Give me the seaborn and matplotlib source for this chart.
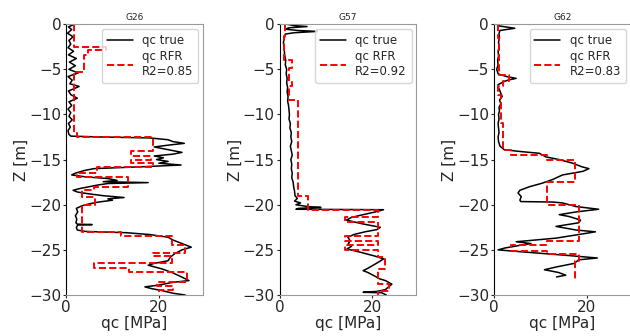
import numpy as np
import pandas as pd
import matplotlib
matplotlib.use("Agg")
import matplotlib.pyplot as plt
import seaborn as sns

# Sondeos y coeficientes R2
names = ["G26", "G57", "G62"]
r2_scores = [0.85, 0.92, 0.83]

# qc medido (profundidad en m, qc en MPa)
z_true_g26 = [0, -0.3, -0.6, -1.0, -1.4, -1.8, -2.2, -2.6, -3.0, -3.4, -3.8, -4.2, -4.6, -5.0,
              -5.4, -5.8, -6.2, -6.6, -6.9, -7.4, -7.8, -8.2, -8.6, -9.0, -9.4, -9.8, -10.2,
              -10.6, -11.0, -11.4, -11.8, -12.2, -12.4, -12.5, -12.6, -12.8, -13.0, -13.2, -13.4,
              -13.6, -13.8, -14.0, -14.2, -14.4, -14.6, -14.8, -15.0, -15.2, -15.4, -15.6, -15.8,
              -16.0, -16.2, -16.5, -16.7, -16.9, -17.1, -17.3, -17.45, -17.55, -17.65, -17.8,
              -18.0, -18.2, -18.4, -18.6, -18.8, -19.0, -19.2, -19.35, -19.5, -19.7, -19.9,
              -20.1, -20.4, -20.8, -21.2, -21.6, -22.0, -22.15, -22.2, -22.25, -22.5, -22.8,
              -22.95, -23.1, -23.3, -23.6, -23.9, -24.1, -24.4, -24.7, -25.0, -25.4, -25.8,
              -26.2, -26.5, -26.7, -27.1, -27.5, -27.9, -28.2, -28.4, -28.6, -28.9, -29.1,
              -29.3, -29.5, -29.8, -30.0]
qc_true_g26 = [1.8, 0.5, 1.2, 0.3, 1.5, 0.6, 1.0, 0.4, 1.6, 0.5, 2.2, 0.7, 2.0, 0.6,
               2.6, 0.4, 1.3, 0.8, 2.8, 0.5, 1.0, 2.4, 0.6, 1.2, 0.4, 1.0, 0.6,
               1.3, 0.5, 0.9, 0.4, 0.6, 1.0, 8.0, 18.0, 22.0, 23.0, 25.5, 22.0,
               19.0, 21.0, 23.0, 25.0, 23.0, 19.0, 21.0, 19.5, 22.0, 20.0, 24.8, 16.0,
               6.0, 4.0, 2.0, 1.2, 4.0, 9.0, 11.0, 8.0, 17.7, 9.0, 7.0,
               5.0, 3.0, 1.5, 2.5, 5.0, 8.0, 12.5, 9.0, 10.0, 7.0, 5.0,
               3.5, 2.2, 2.5, 2.0, 2.3, 2.1, 2.4, 5.6, 2.5, 2.2, 2.4,
               4.0, 13.0, 18.0, 22.0, 23.0, 24.0, 25.5, 27.0, 25.0, 23.5, 22.5,
               22.0, 19.0, 17.7, 20.6, 22.8, 24.5, 25.7, 26.5, 23.0, 20.0, 17.0,
               18.5, 20.6, 23.0, 25.7]

z_true_g57 = [0, -0.15, -0.26, -0.4, -0.55, -0.7, -0.8, -0.95, -1.1, -1.5, -2.0, -2.5, -3.0,
              -3.5, -4.0, -4.5, -5.0, -5.5, -6.0, -6.5, -7.0, -7.5, -8.0, -8.5, -9.0, -9.5,
              -10.0, -10.5, -11.0, -11.5, -12.0, -12.5, -13.0, -13.5, -14.0, -14.5, -15.0,
              -15.5, -16.0, -16.5, -17.0, -17.5, -18.0, -18.5, -19.0, -19.3, -19.6, -19.8,
              -20.0, -20.2, -20.3, -20.4, -20.5, -20.55, -20.8, -21.1, -21.4, -21.7, -22.1,
              -22.5, -22.75, -23.0, -23.3, -23.6, -24.0, -24.3, -24.6, -24.9, -25.3, -25.7,
              -26.0, -26.3, -26.6, -26.9, -27.1, -27.3, -27.5, -27.9, -28.2, -28.4, -28.8,
              -29.1, -29.4, -29.6, -29.7, -29.75, -30.0]
qc_true_g57 = [1.5, 3.0, 5.9, 2.0, 1.2, 4.0, 8.1, 3.0, 1.2, 1.0, 0.8, 0.9, 1.0,
               1.1, 1.3, 1.2, 1.5, 1.4, 1.6, 1.5, 1.7, 1.6, 1.8, 1.7, 1.9, 2.0,
               2.1, 2.0, 2.3, 2.2, 2.5, 2.4, 2.6, 2.3, 2.5, 2.7, 2.4,
               2.6, 2.5, 2.7, 2.6, 2.9, 3.0, 3.2, 3.3, 3.8, 3.2, 4.5,
               3.5, 6.0, 8.9, 4.0, 3.5, 22.4, 20.6, 18.0, 15.5, 14.4, 17.7,
               21.7, 21.0, 18.4, 16.0, 14.7, 15.2, 14.8, 15.5, 14.5, 17.7, 20.6,
               22.4, 21.5, 20.5, 19.5, 18.8, 18.0, 19.0, 20.5, 21.5, 22.8, 24.2,
               23.5, 22.8, 21.0, 18.0, 22.0, 23.0]

z_true_g62 = [0, -0.2, -0.45, -0.7, -1.0, -1.5, -2.0, -2.5, -3.0, -3.5, -4.0, -4.5, -5.0,
              -5.5, -5.8, -6.0, -6.2, -6.4, -6.7, -7.0, -7.4, -7.8, -8.0, -8.4, -8.8, -9.2,
              -9.6, -10.0, -10.5, -11.0, -11.5, -12.0, -12.5, -13.0, -13.5, -13.9, -14.1,
              -14.3, -14.7, -15.0, -15.4, -15.8, -16.0, -16.3, -16.7, -17.2, -17.6, -18.0,
              -18.4, -18.7, -19.1, -19.5, -19.65, -19.7, -19.8, -20.2, -20.5, -20.8, -21.1,
              -21.3, -21.7, -22.0, -22.4, -22.8, -23.0, -23.3, -23.7, -24.1, -24.3, -24.5,
              -24.8, -25.0, -25.2, -25.6, -25.9, -26.1, -26.5, -26.9, -27.2, -27.5, -27.8,
              -28.0]
qc_true_g62 = [0.6, 1.2, 4.5, 1.3, 1.1, 1.2, 1.0, 1.1, 0.9, 1.0, 0.8, 0.9, 0.6,
               0.9, 2.7, 4.8, 3.0, 2.0, 0.9, 1.0, 1.3, 1.6, 1.8, 1.2, 1.5, 1.1,
               1.2, 1.0, 1.1, 0.9, 1.0, 1.1, 0.9, 1.0, 1.3, 2.2, 5.6,
               9.8, 11.2, 14.1, 17.0, 19.0, 20.5, 19.2, 14.8, 12.7, 10.5, 7.7,
               5.6, 5.2, 5.9, 5.6, 5.8, 12.7, 14.8, 17.7, 22.6, 17.7, 14.1,
               16.2, 18.7, 18.3, 13.4, 17.7, 21.9, 18.3, 13.4, 4.8, 8.0, 5.6,
               2.3, 0.9, 5.6, 15.5, 22.3, 18.3, 17.3, 13.4, 10.9, 13.9, 15.5,
               13.5]

# qc predicho por RFR (escalones: limites de capa y valor)
z_rfr_g26 = [0, -2.5, -2.9, -3.4, -5.3, -12.1, -12.55, -14.0, -14.6, -15.0, -15.4, -15.8,
             -16.5, -16.9, -18.0, -18.4, -19.1, -20.0, -23.0, -23.5, -24.5, -25.3, -25.7,
             -26.5, -27.0, -27.5, -28.6, -29.0, -29.5, -30.0]
qc_rfr_g26 = [1.8, 8.5, 4.7, 3.8, 1.8, 2.3, 18.8, 14.0, 18.4, 14.0, 18.8, 6.7,
              2.3, 13.3, 6.0, 3.4, 6.3, 3.4, 11.8, 22.8, 25.7, 18.8, 22.8,
              6.0, 13.6, 26.0, 19.5, 23.0, 20.0]

z_rfr_g57 = [0, -1.3, -4.0, -4.8, -6.4, -6.9, -8.4, -19.0, -20.55, -21.4, -21.9, -23.5,
             -24.0, -24.5, -25.0, -25.8, -27.1, -28.8, -29.6, -30.0]
qc_rfr_g57 = [1.2, 1.0, 2.7, 2.0, 2.7, 2.0, 4.0, 6.0, 21.3, 14.0, 21.3, 14.0,
              21.3, 14.0, 21.3, 22.8, 21.3, 23.5, 21.3]

z_rfr_g62 = [0, -1.5, -5.6, -6.3, -6.8, -7.8, -11.0, -13.9, -14.5, -15.0, -17.5, -20.0,
             -24.0, -24.5, -25.1, -25.5, -26.2, -28.3]
qc_rfr_g62 = [0.8, 1.2, 3.3, 2.0, 0.85, 1.6, 1.9, 3.7, 11.5, 17.6, 11.5, 18.3,
              11.5, 3.6, 11.5, 18.3, 17.6]

true_data = [(z_true_g26, qc_true_g26), (z_true_g57, qc_true_g57), (z_true_g62, qc_true_g62)]
rfr_data = [(z_rfr_g26, qc_rfr_g26), (z_rfr_g57, qc_rfr_g57), (z_rfr_g62, qc_rfr_g62)]


def step_profile(edges, values):
    # Convierte limites de capa + valores en una linea escalonada vertical
    z, q = [], []
    for i, v in enumerate(values):
        z += [edges[i], edges[i + 1]]
        q += [v, v]
    return pd.DataFrame({"z": z, "qc": q})


sns.set_style("white")
plt.rcParams["font.family"] = ["DejaVu Sans"]

fig = plt.figure(figsize=(6.3, 3.36), dpi=100)
lefts = [0.105, 0.444, 0.784]
axes = [fig.add_axes([l, 0.122, 0.217, 0.806]) for l in lefts]

for ax, name, r2, (zt, qt), (zr, qr) in zip(axes, names, r2_scores, true_data, rfr_data):
    df_true = pd.DataFrame({"z": zt, "qc": qt})
    df_rfr = step_profile(zr, qr)

    sns.lineplot(data=df_true, x="qc", y="z", sort=False, estimator=None, orient="y",
                 color="black", linewidth=1.1, label="qc true", ax=ax)
    sns.lineplot(data=df_rfr, x="qc", y="z", sort=False, estimator=None, orient="y",
                 color="red", linewidth=1.4, linestyle="--", label=f"qc RFR\nR2={r2:.2f}", ax=ax)

    ax.set_xlim(0, 29.5)
    ax.set_ylim(-30, 0)
    ax.set_xticks([0, 20])
    ax.set_yticks([0, -5, -10, -15, -20, -25, -30])
    ax.set_title(name, fontsize=6.5, pad=3)
    ax.set_xlabel("qc [MPa]", fontsize=11, labelpad=1)
    ax.set_ylabel("Z [m]", fontsize=11, labelpad=0)
    ax.tick_params(axis="both", labelsize=11, length=2, pad=1.5, direction="out",
                   left=True, bottom=True)
    for spine in ax.spines.values():
        spine.set_color("#999999")
        spine.set_linewidth(0.8)
    ax.spines["left"].set_color("black")
    ax.legend(loc="upper right", fontsize=8.5, frameon=True, handlelength=2.2,
              borderaxespad=0.4, labelspacing=0.3)

fig.savefig("out.png", dpi=100)
